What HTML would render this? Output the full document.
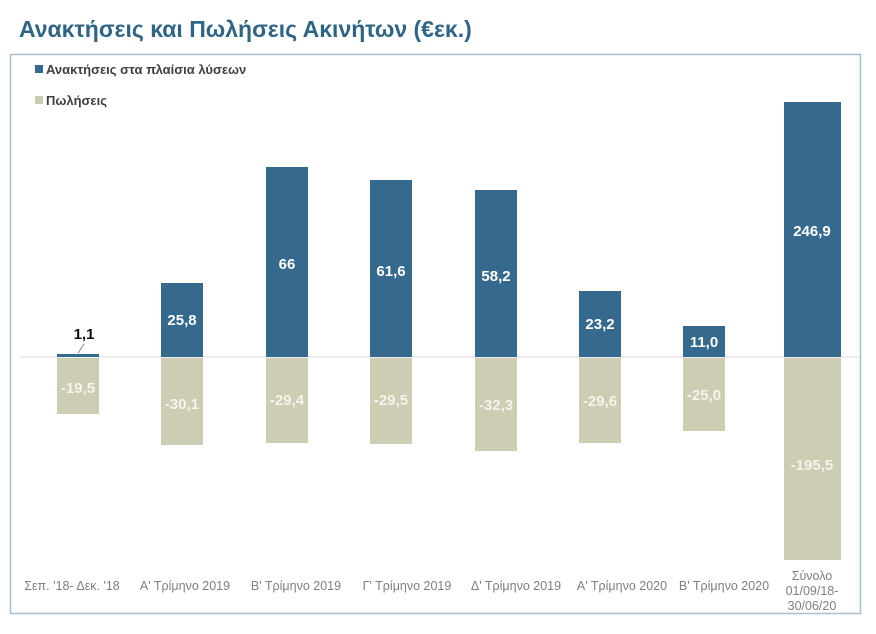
<!DOCTYPE html>
<html><head><meta charset="utf-8"><style>
body{margin:0;background:#fff;width:876px;height:629px;overflow:hidden;font-family:"Liberation Sans",sans-serif}
</style></head><body>
<svg width="876" height="629" xmlns="http://www.w3.org/2000/svg" font-family="Liberation Sans, sans-serif">
<text x="19" y="37" font-size="23" font-weight="bold" fill="#2f6584">Ανακτήσεις και Πωλήσεις Ακινήτων (€εκ.)</text>
<rect x="10.5" y="54.5" width="850" height="559" fill="none" stroke="#a9c0cc" stroke-width="1.5"/>
<rect x="35" y="65" width="8" height="8" fill="#356a8e"/>
<text x="46" y="74" font-size="13" font-weight="bold" fill="#404040">Ανακτήσεις στα πλαίσια λύσεων</text>
<rect x="35" y="96" width="8" height="8" fill="#cccdb3"/>
<text x="46" y="105" font-size="13" font-weight="bold" fill="#404040">Πωλήσεις</text>
<line x1="20" y1="357" x2="860" y2="357" stroke="#d8dde0" stroke-width="1"/>
<g fill="#356a8e">
<rect x="57" y="354" width="42" height="3"/>
<rect x="161" y="283" width="42" height="74"/>
<rect x="266" y="167" width="42" height="190"/>
<rect x="370" y="180" width="42" height="177"/>
<rect x="475" y="190" width="42" height="167"/>
<rect x="579" y="291" width="42" height="66"/>
<rect x="683" y="326" width="42" height="31"/>
<rect x="784" y="102" width="57" height="255"/>
</g>
<g fill="#cccdb3">
<rect x="57" y="358" width="42" height="56"/>
<rect x="161" y="358" width="42" height="87"/>
<rect x="266" y="358" width="42" height="85"/>
<rect x="370" y="358" width="42" height="86"/>
<rect x="475" y="358" width="42" height="93"/>
<rect x="579" y="358" width="42" height="85"/>
<rect x="683" y="358" width="42" height="73"/>
<rect x="784" y="358" width="57" height="202"/>
</g>
<line x1="78" y1="353" x2="84" y2="344" stroke="#888" stroke-width="1"/>
<text x="84" y="339" font-size="15" font-weight="bold" fill="#111" text-anchor="middle">1,1</text>
<g font-size="15" font-weight="bold" fill="#fff" text-anchor="middle">
<text x="182" y="325">25,8</text>
<text x="287" y="269">66</text>
<text x="391" y="276">61,6</text>
<text x="496" y="281">58,2</text>
<text x="600" y="329">23,2</text>
<text x="704" y="347">11,0</text>
<text x="812" y="236">246,9</text>
</g>
<g font-size="15" font-weight="bold" fill="#f4f4ea" text-anchor="middle">
<text x="78" y="393">-19,5</text>
<text x="182" y="409">-30,1</text>
<text x="287" y="405">-29,4</text>
<text x="391" y="405">-29,5</text>
<text x="496" y="410">-32,3</text>
<text x="600" y="406">-29,6</text>
<text x="704" y="400">-25,0</text>
<text x="812" y="470">-195,5</text>
</g>
<g font-size="12.5" fill="#7f7f7f" text-anchor="middle">
<text x="72" y="590">Σεπ. '18- Δεκ. '18</text>
<text x="185" y="590">Α' Τρίμηνο 2019</text>
<text x="296" y="590">Β' Τρίμηνο 2019</text>
<text x="407" y="590">Γ' Τρίμηνο 2019</text>
<text x="516" y="590">Δ' Τρίμηνο 2019</text>
<text x="622" y="590">Α' Τρίμηνο 2020</text>
<text x="724" y="590">Β' Τρίμηνο 2020</text>
<text x="812" y="580">Σύνολο</text>
<text x="812" y="595">01/09/18-</text>
<text x="812" y="610">30/06/20</text>
</g>
</svg>
</body></html>
